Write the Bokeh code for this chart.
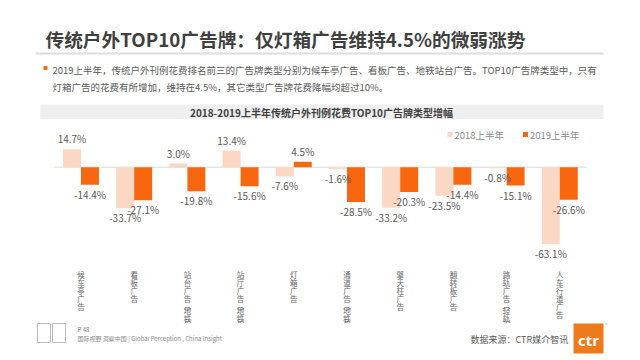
from bokeh.plotting import figure
from bokeh.models import Range1d
from bokeh.core.properties import value
from bokeh.embed import file_html
from bokeh.resources import INLINE

# ---- data ----
categories = ["候车亭广告", "看板广告", "站台广告(地铁)", "站厅广告(地铁)", "灯箱广告",
              "通道广告(地铁)", "擎天柱广告", "翻转板广告", "路轨广告(轻轨)", "人车行道广告"]
h1_2018 = [14.7, -33.7, 3.0, 13.4, -7.6, -1.6, -33.2, -23.5, -0.8, -63.1]
h1_2019 = [-14.4, -27.1, -19.8, -15.6, 4.5, -28.5, -20.3, -14.4, -15.1, -26.6]
series_names = ["2018上半年", "2019上半年"]

page_title = "传统户外TOP10广告牌：仅灯箱广告维持4.5%的微弱涨势"
desc1 = "2019上半年，传统户外刊例花费排名前三的广告牌类型分别为候车亭广告、看板广告、地铁站台广告。TOP10广告牌类型中，只有"
desc2 = "灯箱广告的花费有所增加，维持在4.5%，其它类型广告牌花费降幅均超过10%。"
chart_title = "2018-2019上半年传统户外刊例花费TOP10广告牌类型增幅"
source_note = "数据来源：CTR媒介智讯"
footer_page = "P 48"
footer_text = "国际视野 洞察中国 | Global Perception , China Insight"

# ---- layout ----
W, H = 640, 360
OFF = 0                # page offset of the canvas
CAT_PX = 53.2          # px per category
X0_PX = 80.5           # canvas x of first category centre
ZERO_PX = 166.7        # canvas y (from top) of the zero line
PPU = 1.22             # px per percentage point

FONT = "Noto Sans CJK SC"
C_LIGHT = "#FBD8C4"
C_DARK = "#F8670F"

def px(X):   # page x -> data x
    return (X - OFF - X0_PX) / CAT_PX

def py(Y):   # page y -> data y
    return (ZERO_PX - (Y - OFF)) / PPU

p = figure(width=W, height=H, output_backend="svg", toolbar_location=None,
           x_axis_type=None, y_axis_type=None, min_border=0,
           x_range=Range1d(-X0_PX / CAT_PX, (W - X0_PX) / CAT_PX),
           y_range=Range1d(-(H - ZERO_PX) / PPU, ZERO_PX / PPU))
p.grid.visible = False
p.outline_line_color = None
p.background_fill_color = "white"
p.border_fill_color = "white"

n = len(categories)
xs = list(range(n))
bw = 0.338

# header
p.text(x=[px(45)], y=[py(38)], text=[page_title], text_font=value(FONT),
       text_font_size="18.7px", text_font_style="bold", text_color="#3F3F3F",
       text_baseline="middle", text_align="left")
p.segment(x0=[px(35)], x1=[px(603)], y0=[py(53)], y1=[py(53)], line_color="#DDDDDD", line_width=2)
p.quad(left=[px(43)], right=[px(47)], top=[py(65.5)], bottom=[py(69.5)], fill_color="#E8731D", line_color=None)
p.text(x=[px(52), px(52)], y=[py(69), py(86)], text=[desc1, desc2], text_font=value(FONT),
       text_font_size="9.5px", text_color="#595959", text_baseline="middle", text_align="left")

# chart title band
p.quad(left=[px(40)], right=[px(603)], top=[py(104)], bottom=[py(118.5)], fill_color="#EFEFEF", line_color=None)
p.text(x=[px(321)], y=[py(111.5)], text=[chart_title], text_font=value(FONT),
       text_font_size="10px", text_font_style="bold", text_color="#404040",
       text_baseline="middle", text_align="center")

# legend (manual)
p.quad(left=[px(447), px(522.5)], right=[px(452), px(527.5)], top=[py(131.5), py(131.5)],
       bottom=[py(136.5), py(136.5)], fill_color=[C_LIGHT, C_DARK], line_color=None)
p.text(x=[px(454), px(529.5)], y=[py(134.5), py(134.5)], text=series_names, text_font=value(FONT),
       text_font_size="9.5px", text_color="#8C8C8C", text_baseline="middle", text_align="left")

# zero line
p.segment(x0=[-0.5], x1=[n - 0.5], y0=[0], y1=[0], line_color="#D9D9D9", line_width=1)

# bars
x18 = [x - bw / 2 for x in xs]
x19 = [x + bw / 2 for x in xs]
p.vbar(x=x18, top=h1_2018, bottom=0, width=bw, fill_color=C_LIGHT, line_color=None)
p.vbar(x=x19, top=h1_2019, bottom=0, width=bw, fill_color=C_DARK, line_color=None)

# value labels
def labels(xv, vals):
    pos_x = [x for x, v in zip(xv, vals) if v >= 0]
    pos_v = [v for v in vals if v >= 0]
    neg_x = [x for x, v in zip(xv, vals) if v < 0]
    neg_v = [v for v in vals if v < 0]
    p.text(x=pos_x, y=pos_v, text=[f"{v:.1f}%" for v in pos_v], text_font=value(FONT),
           text_font_size="10px", text_color="#595959", text_align="center",
           text_baseline="bottom", y_offset=-3)
    p.text(x=neg_x, y=neg_v, text=[f"{v:.1f}%" for v in neg_v], text_font=value(FONT),
           text_font_size="10px", text_color="#595959", text_align="center",
           text_baseline="top", y_offset=2)

labels(x18, h1_2018)
labels(x19, h1_2019)

# vertical category labels (one character per row, brackets in vertical form)
cx, cy, ct = [], [], []
for i, c in enumerate(categories):
    y = 270.0
    for ch in c:
        if ch in "()":
            g = "︵" if ch == "(" else "︶"
            cx.append(i); cy.append(py(y + 1.75)); ct.append(g)
            y += 3.5
        else:
            cx.append(i); cy.append(py(y + 4.0)); ct.append(ch)
            y += 8.0
p.text(x=cx, y=cy, text=ct, text_font=value(FONT), text_font_size="7.5px",
       text_color="#666666", text_align="center", text_baseline="middle")

# footer
p.quad(left=[px(37), px(52)], right=[px(50), px(65)], top=[py(323), py(323)], bottom=[py(342), py(342)],
       fill_color=None, line_color="#BBBBBB", line_width=1)
p.text(x=[px(77)], y=[py(329)], text=[footer_page], text_font=value(FONT), text_font_size="6px",
       text_color="#777777", text_baseline="middle", text_align="left")
p.text(x=[px(77)], y=[py(338)], text=[footer_text], text_font=value(FONT), text_font_size="6px",
       text_color="#888888", text_baseline="middle", text_align="left")
p.text(x=[px(470)], y=[py(339)], text=[source_note], text_font=value(FONT), text_font_size="9px",
       text_color="#595959", text_baseline="middle", text_align="left")

# CTR logo
p.quad(left=[px(573)], right=[px(603)], top=[py(323)], bottom=[py(353)], fill_color="#EE7A1B", line_color=None)
p.text(x=[px(588)], y=[py(339)], text=["ctr"], text_font=value("Open Sans"), text_font_size="15px",
       text_font_style="bold", text_color="white", text_baseline="middle", text_align="center")
p.text(x=[px(606)], y=[py(324)], text=["®"], text_font=value(FONT), text_font_size="5px",
       text_color="#BBBBBB", text_baseline="middle", text_align="center")

open("out.html", "w").write(file_html(p, INLINE))
